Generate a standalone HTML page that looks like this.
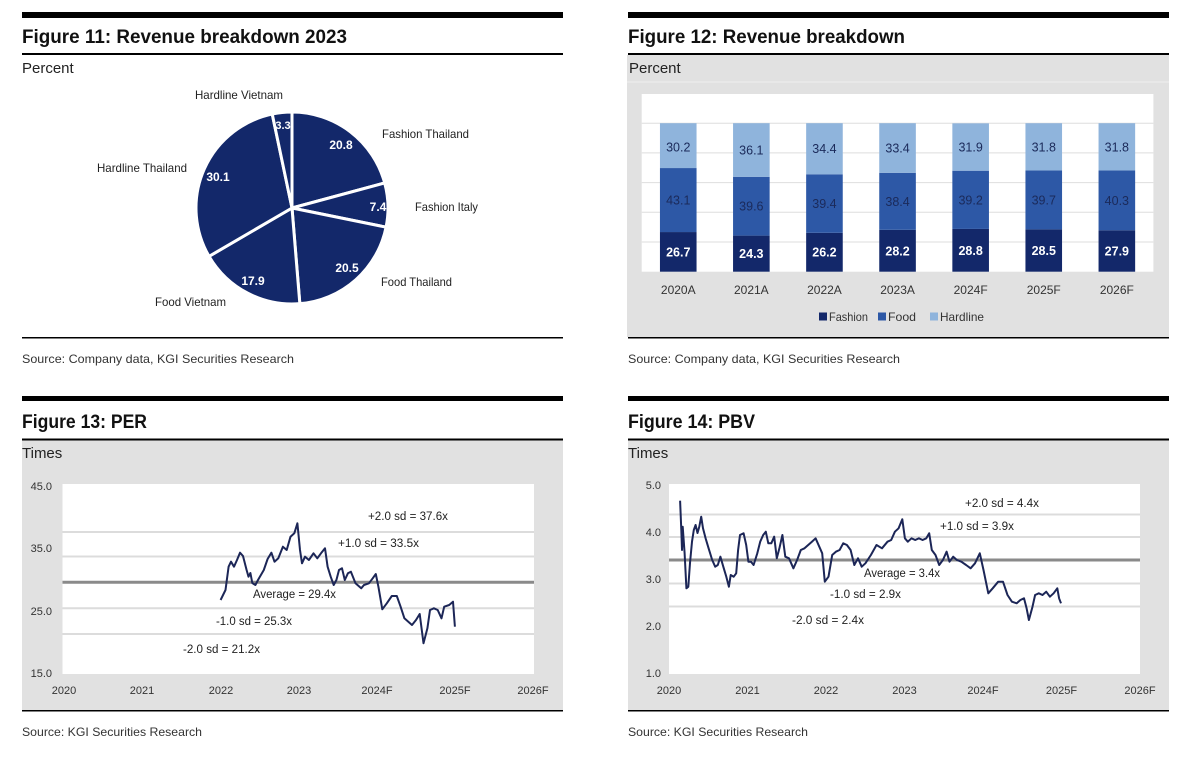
<!DOCTYPE html>
<html><head><meta charset="utf-8"><style>
html,body{margin:0;padding:0;background:#fff;}
svg{display:block;font-family:"Liberation Sans",Arial,sans-serif;}
</style></head><body>
<svg width="1200" height="759" viewBox="0 0 1200 759" xmlns="http://www.w3.org/2000/svg">
<rect width="1200" height="759" fill="#fff"/>

<!-- ============ Panel 11 ============ -->
<rect x="22" y="12" width="541" height="6" fill="#000"/>
<text x="22" y="43" font-size="19" font-weight="bold" fill="#111" textLength="325" lengthAdjust="spacingAndGlyphs">Figure 11: Revenue breakdown 2023</text>
<rect x="22" y="53" width="541" height="2" fill="#000"/>
<text x="22" y="73" font-size="15" fill="#222">Percent</text>
<g stroke="#fff" stroke-width="3" stroke-linejoin="miter" fill="#13286a">
<path d="M292,208 L292,112 A96,96 0 0 1 384.68,182.95 Z"/>
<path d="M292,208 L384.68,182.95 A96,96 0 0 1 386.07,227.17 Z"/>
<path d="M292,208 L386.07,227.17 A96,96 0 0 1 299.83,303.68 Z"/>
<path d="M292,208 L299.83,303.68 A96,96 0 0 1 209.06,256.34 Z"/>
<path d="M292,208 L209.06,256.34 A96,96 0 0 1 272.23,114.06 Z"/>
<path d="M292,208 L272.23,114.06 A96,96 0 0 1 292,112 Z"/>
</g>
<g font-size="12" fill="#fff" text-anchor="middle" font-weight="bold">
<text x="341" y="149">20.8</text>
<text x="378" y="211">7.4</text>
<text x="347" y="272">20.5</text>
<text x="253" y="285">17.9</text>
<text x="218" y="181">30.1</text>
<text x="283" y="129" font-size="11">3.3</text>
</g>
<g font-size="12" fill="#222">
<text x="239" y="99" text-anchor="middle" textLength="88" lengthAdjust="spacingAndGlyphs">Hardline Vietnam</text>
<text x="382" y="138" textLength="87" lengthAdjust="spacingAndGlyphs">Fashion Thailand</text>
<text x="97" y="172" textLength="90" lengthAdjust="spacingAndGlyphs">Hardline Thailand</text>
<text x="415" y="211" textLength="63" lengthAdjust="spacingAndGlyphs">Fashion Italy</text>
<text x="381" y="286" textLength="71" lengthAdjust="spacingAndGlyphs">Food Thailand</text>
<text x="155" y="306" textLength="71" lengthAdjust="spacingAndGlyphs">Food Vietnam</text>
</g>
<rect x="22" y="337" width="541" height="1.5" fill="#000"/>
<text x="22" y="363" font-size="12" fill="#333" textLength="272" lengthAdjust="spacingAndGlyphs">Source: Company data, KGI Securities Research</text>

<!-- ============ Panel 12 ============ -->
<rect x="628" y="12" width="541" height="6" fill="#000"/>
<text x="628" y="43" font-size="19" font-weight="bold" fill="#111" textLength="277" lengthAdjust="spacingAndGlyphs">Figure 12: Revenue breakdown</text>
<rect x="627" y="55" width="542" height="282" fill="#e1e1e1"/>
<rect x="628" y="53" width="541" height="2" fill="#000"/>
<text x="629" y="73" font-size="15" fill="#222">Percent</text>
<rect x="627" y="81.5" width="542" height="1" fill="#eeeeee"/>
<rect x="641.7" y="94" width="511.7" height="177.7" fill="#fff"/>
<g stroke="#dedede" stroke-width="1">
<line x1="641.7" y1="242" x2="1153.4" y2="242"/>
<line x1="641.7" y1="212.3" x2="1153.4" y2="212.3"/>
<line x1="641.7" y1="182.6" x2="1153.4" y2="182.6"/>
<line x1="641.7" y1="152.9" x2="1153.4" y2="152.9"/>
<line x1="641.7" y1="123.2" x2="1153.4" y2="123.2"/>
</g>
<!-- bars: fashion / food / hardline -->
<g>
<rect x="659.95" y="232.05" width="36.6" height="39.65" fill="#13286a"/>
<rect x="659.95" y="168.05" width="36.6" height="64" fill="#2d58a6"/>
<rect x="659.95" y="123.2" width="36.6" height="44.85" fill="#8fb4dc"/>

<rect x="733.05" y="235.61" width="36.6" height="36.09" fill="#13286a"/>
<rect x="733.05" y="176.8" width="36.6" height="58.81" fill="#2d58a6"/>
<rect x="733.05" y="123.19" width="36.6" height="53.61" fill="#8fb4dc"/>

<rect x="806.15" y="232.79" width="36.6" height="38.91" fill="#13286a"/>
<rect x="806.15" y="174.28" width="36.6" height="58.51" fill="#2d58a6"/>
<rect x="806.15" y="123.2" width="36.6" height="51.08" fill="#8fb4dc"/>

<rect x="879.25" y="229.82" width="36.6" height="41.88" fill="#13286a"/>
<rect x="879.25" y="172.8" width="36.6" height="57.02" fill="#2d58a6"/>
<rect x="879.25" y="123.2" width="36.6" height="49.6" fill="#8fb4dc"/>

<rect x="952.35" y="228.93" width="36.6" height="42.77" fill="#13286a"/>
<rect x="952.35" y="170.72" width="36.6" height="58.21" fill="#2d58a6"/>
<rect x="952.35" y="123.35" width="36.6" height="47.37" fill="#8fb4dc"/>

<rect x="1025.45" y="229.38" width="36.6" height="42.32" fill="#13286a"/>
<rect x="1025.45" y="170.43" width="36.6" height="58.95" fill="#2d58a6"/>
<rect x="1025.45" y="123.21" width="36.6" height="47.22" fill="#8fb4dc"/>

<rect x="1098.55" y="230.27" width="36.6" height="41.43" fill="#13286a"/>
<rect x="1098.55" y="170.42" width="36.6" height="59.85" fill="#2d58a6"/>
<rect x="1098.55" y="123.2" width="36.6" height="47.22" fill="#8fb4dc"/>
</g>
<g font-size="12.5" text-anchor="middle" fill="#fff" font-weight="bold">
<text x="678.25" y="256.4">26.7</text>
<text x="751.35" y="258.2">24.3</text>
<text x="824.45" y="256.7">26.2</text>
<text x="897.55" y="255.3">28.2</text>
<text x="970.65" y="254.8">28.8</text>
<text x="1043.75" y="255">28.5</text>
<text x="1116.85" y="255.5">27.9</text>
</g>
<g font-size="12.5" text-anchor="middle" fill="#1b2a5a">
<text x="678.25" y="204.5">43.1</text>
<text x="751.35" y="210.7">39.6</text>
<text x="824.45" y="208">39.4</text>
<text x="897.55" y="205.8">38.4</text>
<text x="970.65" y="204.3">39.2</text>
<text x="1043.75" y="204.4">39.7</text>
<text x="1116.85" y="204.8">40.3</text>
<text x="678.25" y="151.5">30.2</text>
<text x="751.35" y="154.5">36.1</text>
<text x="824.45" y="153.2">34.4</text>
<text x="897.55" y="152.5">33.4</text>
<text x="970.65" y="151.5">31.9</text>
<text x="1043.75" y="151.3">31.8</text>
<text x="1116.85" y="151.3">31.8</text>
</g>
<g font-size="12" text-anchor="middle" fill="#333">
<text x="678.25" y="294">2020A</text>
<text x="751.35" y="294">2021A</text>
<text x="824.45" y="294">2022A</text>
<text x="897.55" y="294">2023A</text>
<text x="970.65" y="294">2024F</text>
<text x="1043.75" y="294">2025F</text>
<text x="1116.85" y="294">2026F</text>
</g>
<rect x="819" y="312.5" width="8" height="8" fill="#13286a"/>
<text x="829" y="321" font-size="12" fill="#333" textLength="39" lengthAdjust="spacingAndGlyphs">Fashion</text>
<rect x="878" y="312.5" width="8" height="8" fill="#2d58a6"/>
<text x="888" y="321" font-size="12" fill="#333" textLength="28" lengthAdjust="spacingAndGlyphs">Food</text>
<rect x="930" y="312.5" width="8" height="8" fill="#8fb4dc"/>
<text x="940" y="321" font-size="12" fill="#333" textLength="44" lengthAdjust="spacingAndGlyphs">Hardline</text>
<rect x="628" y="337" width="541" height="1.5" fill="#000"/>
<text x="628" y="363" font-size="12" fill="#333" textLength="272" lengthAdjust="spacingAndGlyphs">Source: Company data, KGI Securities Research</text>

<!-- ============ Panel 13 PER ============ -->
<rect x="22" y="396" width="541" height="5" fill="#000"/>
<text x="22" y="428" font-size="19" font-weight="bold" fill="#111" textLength="125" lengthAdjust="spacingAndGlyphs">Figure 13: PER</text>
<rect x="22" y="440" width="541" height="271" fill="#e1e1e1"/>
<rect x="22" y="438.5" width="541" height="2" fill="#000"/>
<text x="22" y="458" font-size="15" fill="#222">Times</text>
<rect x="62.5" y="484" width="471.5" height="190" fill="#fff"/>
<g stroke="#dcdcdc" stroke-width="2">
<line x1="62.5" y1="532" x2="534" y2="532"/>
<line x1="62.5" y1="556.5" x2="534" y2="556.5"/>
<line x1="62.5" y1="608.3" x2="534" y2="608.3"/>
<line x1="62.5" y1="634" x2="534" y2="634"/>
</g>
<line x1="62.5" y1="582.3" x2="534" y2="582.3" stroke="#8a8a8a" stroke-width="3"/>
<polyline fill="none" stroke="#1c2657" stroke-width="2" stroke-linejoin="round" points="220.6,600 225.5,590 228.6,566.7 231,561.7 234,566.7 237,560 240,552.7 243,556 246.6,570 248.5,576.7 250.4,573 252.3,583 255.4,585 258,580 263.8,570 267.6,559 271.4,552.7 274.5,561.7 278.3,558.3 282.9,546.7 286.7,550 290.5,536.7 294.3,533.3 297.4,523.3 300,550 302,563.3 305,556.7 308.9,560 313.5,553.3 317.3,558.3 321,553.3 325,548.3 327.6,566.7 330.7,576.7 333.7,585 336.4,580 339,570 342,568.3 344.8,580 347.9,573.3 350.9,571.7 355.5,583.3 361.2,588.3 364,585 368.9,583.3 372.7,578.3 375.8,574 378.4,586.7 382.3,609.3 386.8,603.3 391.8,596 396.8,596 400.6,606.7 404.4,618.3 408.3,621.7 412,625 416,620 419.7,614 423.5,643.3 427.4,628.3 430,610 433.9,608.3 437.7,610 441.5,618.3 444.2,606.7 449.2,605 453,601.7 454.9,626.7"/>
<g font-size="11.5" fill="#222">
<text x="368" y="520" textLength="80" lengthAdjust="spacingAndGlyphs">+2.0 sd = 37.6x</text>
<text x="338" y="547" textLength="81" lengthAdjust="spacingAndGlyphs">+1.0 sd = 33.5x</text>
<text x="253" y="598" textLength="83" lengthAdjust="spacingAndGlyphs">Average = 29.4x</text>
<text x="216" y="625" textLength="76" lengthAdjust="spacingAndGlyphs">-1.0 sd = 25.3x</text>
<text x="183" y="653" textLength="77" lengthAdjust="spacingAndGlyphs">-2.0 sd = 21.2x</text>
</g>
<g font-size="11" fill="#333" text-anchor="end">
<text x="52" y="490">45.0</text>
<text x="52" y="552">35.0</text>
<text x="52" y="615">25.0</text>
<text x="52" y="677">15.0</text>
</g>
<g font-size="11" fill="#333" text-anchor="middle">
<text x="64" y="694">2020</text>
<text x="142" y="694">2021</text>
<text x="221" y="694">2022</text>
<text x="299" y="694">2023</text>
<text x="377" y="694">2024F</text>
<text x="455" y="694">2025F</text>
<text x="533" y="694">2026F</text>
</g>
<rect x="22" y="710" width="541" height="1.5" fill="#000"/>
<text x="22" y="736" font-size="12" fill="#333" textLength="180" lengthAdjust="spacingAndGlyphs">Source: KGI Securities Research</text>

<!-- ============ Panel 14 PBV ============ -->
<rect x="628" y="396" width="541" height="5" fill="#000"/>
<text x="628" y="428" font-size="19" font-weight="bold" fill="#111" textLength="127" lengthAdjust="spacingAndGlyphs">Figure 14: PBV</text>
<rect x="628" y="440" width="541" height="271" fill="#e1e1e1"/>
<rect x="628" y="438.5" width="541" height="2" fill="#000"/>
<text x="628" y="458" font-size="15" fill="#222">Times</text>
<rect x="669" y="484" width="471" height="190" fill="#fff"/>
<g stroke="#dcdcdc" stroke-width="2">
<line x1="669" y1="514.5" x2="1140" y2="514.5"/>
<line x1="669" y1="537" x2="1140" y2="537"/>
<line x1="669" y1="583.5" x2="1140" y2="583.5"/>
<line x1="669" y1="606.5" x2="1140" y2="606.5"/>
</g>
<line x1="669" y1="560" x2="1140" y2="560" stroke="#8a8a8a" stroke-width="3"/>
<polyline fill="none" stroke="#1c2657" stroke-width="2" stroke-linejoin="round" points="680.1,500.7 681.3,530 682,550 682.7,526.7 684.6,553 686.4,588.3 688.3,586.7 690,563 692,541.7 693.8,530 695.6,525 697.5,533 699.3,526.7 701.2,516.7 703,528.3 705.6,538.3 708.6,548.3 712.2,560 715.2,566.7 717.8,565 720.4,556.7 723.3,566.7 726.3,576.7 728.9,586.7 730.7,575 733.7,576.7 736.2,573.3 738.1,550 740,535 743.6,533.3 746.2,545 748.4,561.7 751,561.7 753.6,565 757.3,553.3 760.2,541.7 763.2,535 765.8,531.7 768.3,543.3 771.3,543.3 774.2,536.7 776.8,558.3 779.4,548.3 782.4,535 785.3,556.7 789,558.3 793.4,568.3 797.1,560 800.8,550 804.5,548.3 808.2,545 811.9,541.7 815.6,538.3 819.3,546.7 822.2,553.3 824.8,581.7 828.5,576.7 832.2,555 835.9,551.7 839.6,550 843.2,543.3 846.9,545 850.6,550 854.3,565 858,558.3 861.7,566.7 865.4,563.3 870.9,555 876.5,545 882,548.3 887.5,541.7 891.2,540 894.9,531.7 898.6,528.3 902.3,519.3 904.9,538.3 907.8,541.7 911.5,538.3 915.2,540 918.9,538.3 922.6,540 926.3,538.3 929.2,533.3 931.8,550 935.5,555 939.2,565 942.9,560 946.6,551.7 949.5,561.7 953.2,556.7 956.9,560 961.3,561.7 966.1,565 970.6,568.3 975,563.3 979.8,553.3 983.5,570 988.3,593.3 992.7,588.3 998.2,581.7 1003,581.7 1007.5,595 1011.9,601.7 1016.7,603.3 1020.4,600 1024,598.3 1026.6,608.3 1028.9,620 1032.5,606.7 1035.1,595 1038.8,593.3 1042.5,595 1046.2,591.7 1049.9,596.7 1053.6,593.3 1057.3,588.3 1059.1,598.3 1061,603.3"/>
<g font-size="11.5" fill="#222">
<text x="965" y="507" textLength="74" lengthAdjust="spacingAndGlyphs">+2.0 sd = 4.4x</text>
<text x="940" y="530" textLength="74" lengthAdjust="spacingAndGlyphs">+1.0 sd = 3.9x</text>
<text x="864" y="577" textLength="76" lengthAdjust="spacingAndGlyphs">Average = 3.4x</text>
<text x="830" y="598" textLength="71" lengthAdjust="spacingAndGlyphs">-1.0 sd = 2.9x</text>
<text x="792" y="624" textLength="72" lengthAdjust="spacingAndGlyphs">-2.0 sd = 2.4x</text>
</g>
<g font-size="11" fill="#333" text-anchor="end">
<text x="661" y="489">5.0</text>
<text x="661" y="536">4.0</text>
<text x="661" y="583">3.0</text>
<text x="661" y="630">2.0</text>
<text x="661" y="677">1.0</text>
</g>
<g font-size="11" fill="#333" text-anchor="middle">
<text x="669" y="694">2020</text>
<text x="747.5" y="694">2021</text>
<text x="826" y="694">2022</text>
<text x="904.5" y="694">2023</text>
<text x="983" y="694">2024F</text>
<text x="1061.5" y="694">2025F</text>
<text x="1140" y="694">2026F</text>
</g>
<rect x="628" y="710" width="541" height="1.5" fill="#000"/>
<text x="628" y="736" font-size="12" fill="#333" textLength="180" lengthAdjust="spacingAndGlyphs">Source: KGI Securities Research</text>
</svg>
</body></html>
